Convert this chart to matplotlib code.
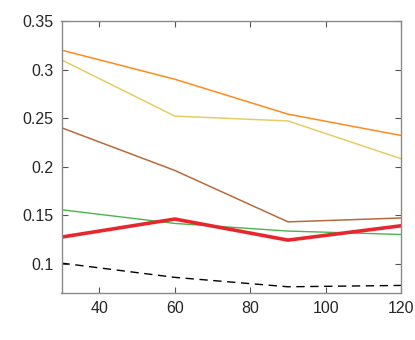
import matplotlib
matplotlib.use("Agg")
import matplotlib.pyplot as plt

x = [30, 60, 90, 120]
orange = [0.320, 0.290, 0.254, 0.232]
yellow = [0.310, 0.252, 0.247, 0.208]
brown = [0.240, 0.196, 0.143, 0.147]
green = [0.1555, 0.1414, 0.1335, 0.130]
red = [0.1273, 0.1459, 0.1242, 0.139]
black = [0.1005, 0.0858, 0.0761, 0.0775]

xticks = [40, 60, 80, 100, 120]
yticks = [0.1, 0.15, 0.2, 0.25, 0.3, 0.35]
yticklabels = ["0.1", "0.15", "0.2", "0.25", "0.3", "0.35"]

plt.rcParams['font.family'] = ['Liberation Sans', 'DejaVu Sans']
fig = plt.figure(figsize=(4.15, 3.4), dpi=100)
ax = fig.add_axes([61.5/415, 1 - 292.7/340, (401.3-61.5)/415, (292.7-21)/340])

ax.plot(x, orange, color='#FF8A1E', lw=1.1)
ax.plot(x, yellow, color='#E6CC66', lw=1.1)
ax.plot(x, brown, color='#B86A3C', lw=1.1)
ax.plot(x, green, color='#4DB34D', lw=1.0)
ax.plot(x, red, color='#E8262E', lw=2.6)
ax.plot(x, black, color='black', lw=1.0, ls=(0, (6, 4)))

ax.set_xlim(30, 120)
ax.set_ylim(0.07, 0.35)
ax.set_xticks(xticks)
ax.set_yticks(yticks)
ax.set_yticklabels(yticklabels)
for s in ax.spines.values():
    s.set_color('#8a8a8a')
    s.set_linewidth(1.0)
ax.tick_params(direction='in', top=True, right=True, length=4, width=0.8,
               color='#555555', labelsize=11.5, labelcolor='#262626', pad=6)
fig.savefig('out.png', dpi=100)
